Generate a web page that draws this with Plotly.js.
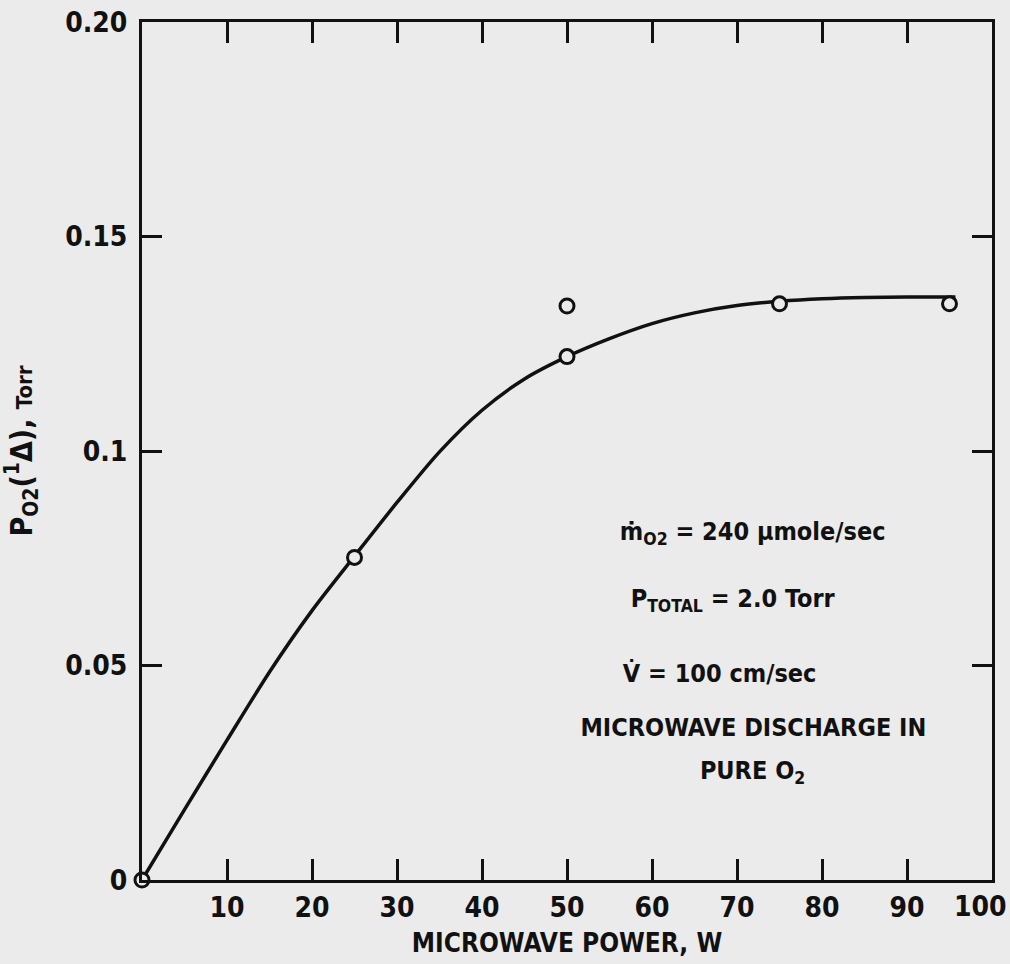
<!DOCTYPE html>
<html>
<head>
<meta charset="utf-8">
<script src="https://cdn.plot.ly/plotly-3.0.1.min.js"></script>
<style>
  html, body { margin: 0; padding: 0; background: #ebebeb; }
  #chart { width: 1010px; height: 964px; }
  #chart text { font-stretch: condensed !important; }
</style>
</head>
<body>
<div id="chart"></div>
<script>
// Measured data points (open circles)
const powerW = [0, 25, 50, 50, 75, 95];
const pO2 = [0, 0.0752, 0.1220, 0.1338, 0.1343, 0.1343];

// Fitted curve
const curvePower = [0, 5, 10, 15, 20, 25, 30, 35, 40, 45, 50, 55, 60, 65, 70, 75, 80, 85, 90, 95.7];
const curveP = [0, 0.0164, 0.0326, 0.0485, 0.0628, 0.0755, 0.0880, 0.0998, 0.1095, 0.1168, 0.1220, 0.1262, 0.1297, 0.1322, 0.1339, 0.1349, 0.1355, 0.1358, 0.1359, 0.1359];

const xTickVals = [10, 20, 30, 40, 50, 60, 70, 80, 90, 100];
const xTickText = ["10", "20", "30", "40", "50", "60", "70", "80", "90", ""];
const lastXLabel = "100";
const yTickVals = [0, 0.05, 0.1, 0.15, 0.2];
const yTickText = ["0", "0.05", "0.1", "0.15", "0.20"];

const FONT = "'DejaVu Sans', 'Liberation Sans', sans-serif";
const INK = "#111111";
const BG = "#ebebeb";

const traces = [
  {
    x: curvePower, y: curveP, type: "scatter", mode: "lines",
    line: { color: INK, width: 3.5, shape: "spline", smoothing: 0.8 },
    hoverinfo: "skip", cliponaxis: false
  },
  {
    x: powerW, y: pO2, type: "scatter", mode: "markers",
    marker: { symbol: "circle", size: 14, color: BG, line: { color: INK, width: 3 } },
    cliponaxis: false
  }
];

const tickFont = { family: FONT, size: 28, color: INK, weight: "bold" };
const annFont = { family: FONT, size: 25, color: INK, weight: "bold" };
const px = (p) => (p - 142) / 850;
const py = (p) => (880 - p) / 858;
const layout = {
  width: 1010, height: 964,
  margin: { l: 142, r: 18, t: 22, b: 84 },
  paper_bgcolor: BG, plot_bgcolor: BG,
  showlegend: false,
  font: { family: FONT, color: INK, weight: "bold" },
  xaxis: {
    range: [0, 100], tickvals: xTickVals, ticktext: xTickText,
    ticks: "inside", ticklen: 21, tickwidth: 3, tickcolor: INK,
    showline: true, linewidth: 3, linecolor: INK, mirror: "ticks",
    showgrid: false, zeroline: false,
    tickfont: tickFont,
    ticklabelstandoff: 0,
    title: { text: "MICROWAVE POWER, W", font: { family: FONT, size: 26, color: INK, weight: "bold" }, standoff: 12 }
  },
  yaxis: {
    range: [0, 0.2], tickvals: yTickVals, ticktext: yTickText,
    ticks: "inside", ticklen: 20, tickwidth: 3, tickcolor: INK,
    showline: true, linewidth: 3, linecolor: INK, mirror: "ticks",
    showgrid: false, zeroline: false,
    tickfont: tickFont,
    ticklabelstandoff: 6,
    title: { text: "P<sub>O2</sub>(<sup>1</sup>Δ), <span style='font-size:22px'>Torr</span>", font: { family: FONT, size: 30, color: INK, weight: "bold" }, standoff: 26 }
  },
  annotations: [
    { xref: "x", yref: "paper", x: 100, y: 0, yanchor: "middle", xanchor: "center", xshift: -12, yshift: -26,
      text: lastXLabel, showarrow: false, font: tickFont },
    { xref: "paper", yref: "paper", x: px(752), y: py(533), xanchor: "center", yanchor: "middle",
      text: "ṁ<sub>O2</sub> = 240 μmole/sec", showarrow: false, font: annFont },
    { xref: "paper", yref: "paper", x: px(733), y: py(600), xanchor: "center", yanchor: "middle",
      text: "P<sub>TOTAL</sub> = 2.0 Torr", showarrow: false, font: annFont },
    { xref: "paper", yref: "paper", x: px(719), y: py(673), xanchor: "center", yanchor: "middle",
      text: "V̇ = 100 cm/sec", showarrow: false, font: annFont },
    { xref: "paper", yref: "paper", x: px(753), y: py(727), xanchor: "center", yanchor: "middle",
      text: "MICROWAVE DISCHARGE IN", showarrow: false, font: annFont },
    { xref: "paper", yref: "paper", x: px(752), y: py(772), xanchor: "center", yanchor: "middle",
      text: "PURE O<sub>2</sub>", showarrow: false, font: annFont }
  ]
};

Plotly.newPlot("chart", traces, layout, { staticPlot: true, displayModeBar: false });
</script>
</body>
</html>
